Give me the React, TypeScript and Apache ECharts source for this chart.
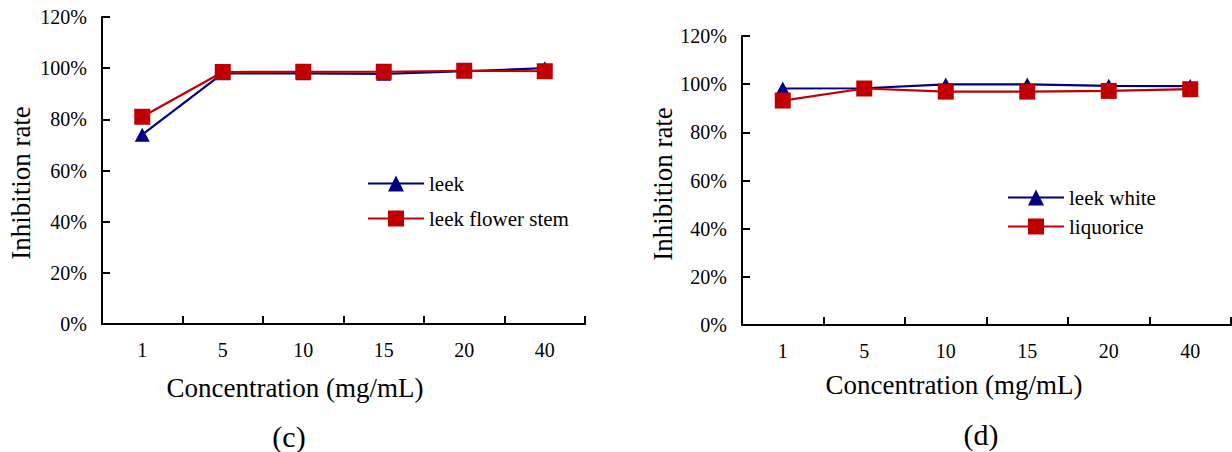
import React, { useEffect, useRef } from "react";
import * as echarts from "echarts";

const categories = ["1", "5", "10", "15", "20", "40"];
const leekC = [74, 98, 98, 97.8, 98.8, 100];
const flowerStemC = [81, 98.5, 98.6, 98.6, 99, 98.8];
const leekWhiteD = [98.2, 98.3, 99.9, 99.9, 99.3, 99.2];
const liquoriceD = [93.2, 98.2, 96.9, 96.9, 97.2, 97.9];
const yTicks = { min: 0, max: 120, interval: 20 };

const BLUE = "#000080";
const RED = "#C00000";
const FONT = "Liberation Serif";

export default function App() {
  const ref = useRef<HTMLDivElement>(null);
  useEffect(() => {
    if (!ref.current) return;
    const chart = echarts.init(ref.current, undefined, { renderer: "svg" });
    const axisLine = { show: true, lineStyle: { color: "#000", width: 2 } };
    const xAxisBase = (gridIndex: number) => ({
      type: "category",
      gridIndex,
      data: categories,
      boundaryGap: true,
      axisLine,
      axisTick: { show: true, inside: true, length: 8, lineStyle: { color: "#000", width: 2 } },
      axisLabel: { color: "#000", fontFamily: FONT, fontSize: 20, margin: 16 },
      splitLine: { show: false },
    });
    const yAxisBase = (gridIndex: number) => ({
      type: "value",
      gridIndex,
      min: yTicks.min,
      max: yTicks.max,
      interval: yTicks.interval,
      axisLine,
      axisTick: { show: true, inside: true, length: 8, lineStyle: { color: "#000", width: 2 } },
      axisLabel: { color: "#000", fontFamily: FONT, fontSize: 20, margin: 15, formatter: "{value}%" },
      splitLine: { show: false },
    });
    const mk = (name: string, data: number[], idx: number, color: string, tri: boolean) => ({
      type: "line",
      name,
      xAxisIndex: idx,
      yAxisIndex: idx,
      data,
      symbol: tri ? "triangle" : "rect",
      symbolSize: tri ? [15, 14] : 16,
      lineStyle: { color, width: 2.2 },
      itemStyle: { color },
    });
    const legendBase = {
      orient: "vertical",
      padding: 0,
      itemWidth: 56,
      itemHeight: 20,
      textStyle: { color: "#000", fontFamily: FONT, fontSize: 21, lineHeight: 20 },
    };
    const titleText = (x: number, y: number, text: string, rot = 0, size = 27) => ({
      type: "text",
      x,
      y,
      rotation: rot,
      style: {
        text,
        fill: "#000",
        font: `${size}px "${FONT}"`,
        align: "center",
        verticalAlign: "middle",
      },
    });
    chart.setOption({
      animation: false,
      backgroundColor: "#fff",
      grid: [
        { left: 102, top: 17, width: 483, height: 307 },
        { left: 742, top: 36, width: 489, height: 289 },
      ],
      xAxis: [xAxisBase(0), xAxisBase(1)],
      yAxis: [yAxisBase(0), yAxisBase(1)],
      legend: [
        { ...legendBase, left: 367, top: 173, itemGap: 14, data: ["leek", "leek flower stem"] },
        { ...legendBase, left: 1007, top: 187, itemGap: 8, data: ["leek white", "liquorice"] },
      ],
      series: [
        mk("leek", leekC, 0, BLUE, true),
        mk("leek flower stem", flowerStemC, 0, RED, false),
        mk("leek white", leekWhiteD, 1, BLUE, true),
        mk("liquorice", liquoriceD, 1, RED, false),
      ],
      graphic: [
        titleText(295, 388, "Concentration (mg/mL)"),
        titleText(954, 385, "Concentration (mg/mL)"),
        titleText(21, 183, "Inhibition rate", Math.PI / 2),
        titleText(663, 184, "Inhibition rate", Math.PI / 2),
        titleText(289, 436, "(c)", 0, 30),
        titleText(981, 434, "(d)", 0, 30),
      ],
    });
    return () => chart.dispose();
  }, []);
  return (
    <div
      ref={ref}
      style={{ position: "fixed", left: 0, top: 0, width: 1232, height: 452, background: "#fff" }}
    />
  );
}
